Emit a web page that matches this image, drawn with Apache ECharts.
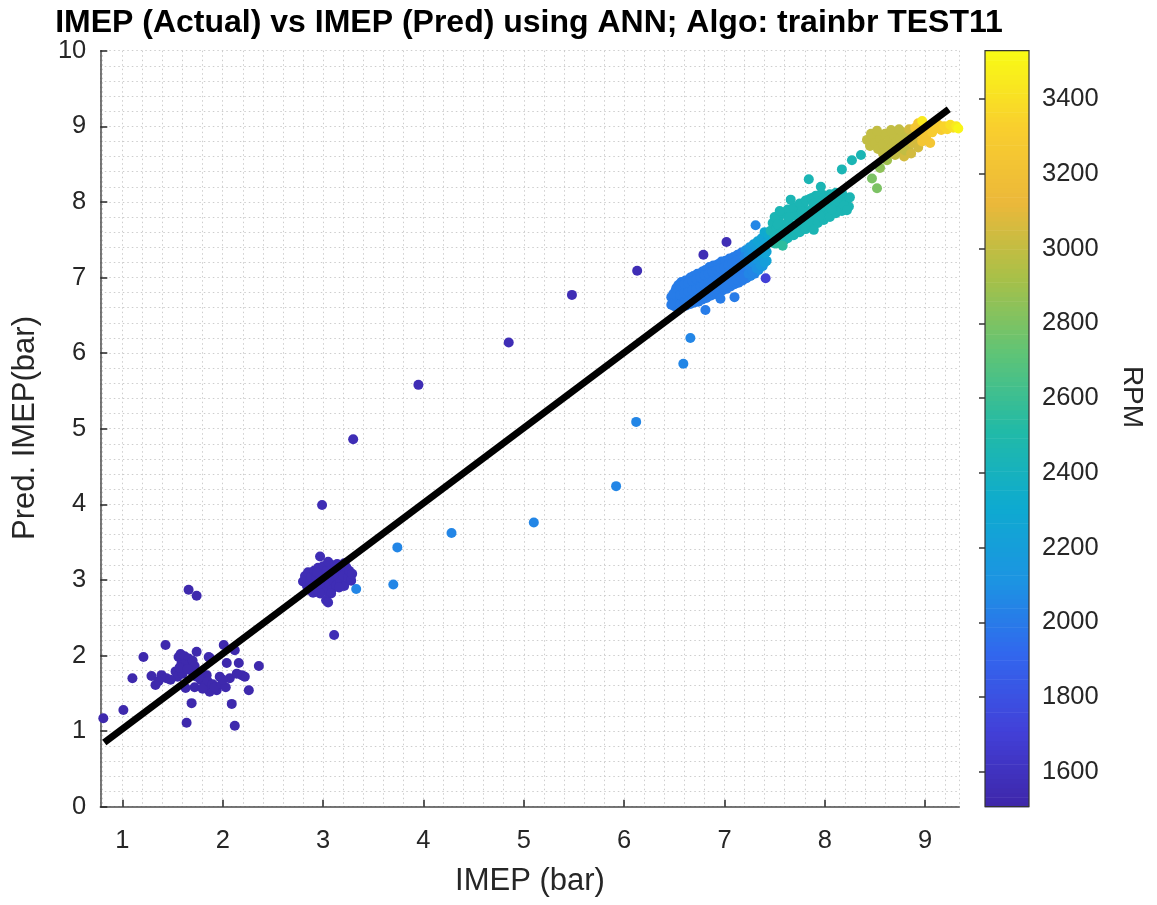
<!DOCTYPE html>
<html>
<head>
<meta charset="utf-8">
<script src="https://cdn.jsdelivr.net/npm/echarts@6/dist/echarts.min.js"></script>
<style>
  html, body { margin: 0; padding: 0; background: #ffffff; }
  #chart { width: 1157px; height: 905px; }
</style>
</head>
<body>
<div id="chart"></div>
<script>
// Each point: [IMEP actual (bar), IMEP predicted (bar), engine speed (RPM)]

// ~1500 rpm, low load
const lowLoad = [
  [0.81,1.17,1530],[1.01,1.28,1530],[1.10,1.70,1530],[1.21,1.98,1530],[1.29,1.73,1530],[1.33,1.61,1530],
  [1.39,1.74,1530],[1.43,2.14,1530],[1.44,1.70,1530],[1.53,1.79,1530],[1.56,1.98,1530],[1.59,1.90,1530],
  [1.64,1.94,1530],[1.66,2.87,1530],[1.74,2.79,1530],[1.67,1.85,1530],[1.63,1.57,1530],[1.69,1.37,1530],
  [1.64,1.11,1530],[1.74,2.05,1530],[1.74,1.72,1530],[1.81,1.65,1530],[1.84,1.74,1530],[1.87,1.52,1530],
  [1.87,1.97,1530],[1.94,1.54,1530],[1.97,1.72,1530],[2.01,2.14,1530],[2.04,1.90,1530],[2.07,1.70,1530],
  [2.09,1.36,1530],[2.12,2.07,1530],[2.16,1.90,1530],[2.12,1.07,1530],[2.19,1.74,1530],[2.22,1.72,1530],
  [2.26,1.54,1530],[2.36,1.86,1530],[1.58,2.02,1530],[1.62,1.99,1530],[1.66,1.96,1530],[1.70,1.93,1530],
  [1.61,1.88,1530],[1.69,1.80,1530],[1.72,1.86,1530],[1.77,1.76,1530],[1.78,1.68,1530],[1.82,1.60,1530],
  [1.85,1.66,1530],[1.90,1.62,1530],[1.55,1.72,1530],[1.48,1.68,1530],[1.36,1.66,1530],[1.60,1.76,1530],
  [1.72,1.58,1530],[1.80,1.56,1530],[1.92,1.58,1530],[1.99,1.62,1530],[2.03,1.58,1530],[2.14,1.76,1530],
  [1.86,1.98,1530],[2.00,1.68,1530],[1.57,1.84,1530],[1.65,1.82,1530]
];

// ~1550 rpm, part load
const partLoad = [
  [2.80,2.98,1560],[2.82,3.05,1560],[2.84,2.92,1560],[2.85,3.10,1560],[2.87,2.99,1560],[2.88,3.04,1560],
  [2.89,2.88,1560],[2.91,3.12,1560],[2.92,2.95,1560],[2.93,3.05,1560],[2.95,2.86,1560],[2.95,3.16,1560],
  [2.97,3.00,1560],[2.98,3.08,1560],[3.00,2.91,1560],[3.00,3.18,1560],[3.02,3.02,1560],[3.03,2.85,1560],
  [3.04,3.12,1560],[3.06,2.95,1560],[3.07,3.06,1560],[3.08,3.20,1560],[3.09,2.88,1560],[3.10,3.00,1560],
  [3.12,3.10,1560],[3.13,2.93,1560],[3.14,3.21,1560],[3.15,3.04,1560],[3.17,2.97,1560],[3.18,3.14,1560],
  [3.20,3.06,1560],[3.21,2.92,1560],[3.23,3.17,1560],[3.25,3.03,1560],[3.26,3.12,1560],[3.28,2.99,1560],
  [3.29,3.08,1560],[3.21,3.22,1560],[3.05,3.24,1560],[2.97,2.82,1560],[3.08,2.82,1560],[2.90,2.83,1560],
  [2.86,2.87,1560],[3.12,3.16,1560],[2.94,3.10,1560],[3.16,2.90,1560]
];

// ~2000 rpm
const midSpeed = [
  [6.47,6.64,2010],[6.47,6.74,2010],[6.50,6.62,2010],[6.50,6.72,2010],[6.51,6.82,2010],
  [6.54,6.60,2010],[6.54,6.71,2010],[6.55,6.80,2010],[6.54,6.90,2010],
  [6.58,6.62,2010],[6.58,6.73,2010],[6.59,6.84,2010],[6.57,6.94,2010],
  [6.62,6.63,2010],[6.62,6.75,2010],[6.63,6.86,2010],[6.61,6.96,2010],
  [6.66,6.65,2010],[6.66,6.77,2010],[6.67,6.88,2010],[6.66,7.00,2010],
  [6.70,6.67,2010],[6.71,6.79,2010],[6.70,6.91,2010],[6.69,7.02,2010],
  [6.74,6.68,2010],[6.74,6.81,2010],[6.75,6.93,2010],[6.73,7.05,2010],
  [6.78,6.71,2010],[6.78,6.84,2010],[6.79,6.96,2010],[6.78,7.08,2010],
  [6.82,6.73,2010],[6.82,6.86,2010],[6.83,6.98,2010],[6.81,7.10,2010],
  [6.86,6.76,2010],[6.86,6.89,2010],[6.87,7.01,2010],[6.85,7.14,2010],
  [6.90,6.78,2010],[6.90,6.91,2010],[6.91,7.03,2010],[6.89,7.16,2010],
  [6.94,6.80,2010],[6.94,6.93,2010],[6.95,7.05,2010],[6.94,7.18,2010],
  [6.98,6.83,2010],[6.98,6.96,2010],[6.99,7.08,2010],[6.97,7.21,2010],
  [7.02,6.85,2010],[7.02,6.98,2010],[7.03,7.10,2010],[7.01,7.22,2010],
  [7.06,6.88,2010],[7.06,7.01,2010],[7.07,7.13,2010],[7.05,7.25,2010],
  [7.10,6.91,2010],[7.10,7.03,2010],[7.11,7.15,2010],[7.09,7.27,2010],
  [7.14,6.93,2010],[7.14,7.06,2010],[7.15,7.18,2010],[7.13,7.30,2010],
  [7.18,6.96,2010],[7.18,7.09,2010],[7.19,7.21,2010],[7.17,7.33,2010],
  [7.22,6.99,2010],[7.22,7.12,2010],[7.23,7.24,2010],[7.21,7.36,2100],
  [7.26,7.02,2050],[7.26,7.15,2050],[7.27,7.27,2100],[7.25,7.40,2150],
  [7.30,7.05,2050],[7.30,7.18,2100],[7.31,7.31,2150],[7.29,7.44,2200],
  [7.34,7.10,2100],[7.34,7.22,2150],[7.35,7.35,2200],[7.33,7.48,2250],
  [7.38,7.15,2150],[7.38,7.27,2200],[7.39,7.40,2250],[7.37,7.52,2250],
  [7.42,7.22,2250],[7.42,7.34,2250],[7.43,7.47,2300],[7.40,7.60,2300],
  [6.49,6.66,2010],[6.49,6.78,2010],[6.52,6.86,2010],
  [6.56,6.65,2010],[6.56,6.77,2010],[6.56,6.88,2010],
  [6.60,6.67,2010],[6.60,6.79,2010],[6.60,6.91,2010],
  [6.64,6.69,2010],[6.64,6.81,2010],[6.64,6.93,2010],
  [6.68,6.71,2010],[6.68,6.83,2010],[6.68,6.95,2010],
  [6.72,6.73,2010],[6.72,6.85,2010],[6.72,6.98,2010],
  [6.76,6.76,2010],[6.76,6.88,2010],[6.76,7.00,2010],
  [6.80,6.78,2010],[6.80,6.90,2010],[6.80,7.03,2010],
  [6.84,6.80,2010],[6.84,6.93,2010],[6.84,7.05,2010],
  [6.88,6.83,2010],[6.88,6.95,2010],[6.88,7.08,2010],
  [6.92,6.85,2010],[6.92,6.97,2010],[6.92,7.10,2010],
  [6.96,6.87,2010],[6.96,7.00,2010],[6.96,7.12,2010],
  [7.00,6.90,2010],[7.00,7.02,2010],[7.00,7.14,2010],
  [7.04,6.92,2010],[7.04,7.04,2010],[7.04,7.17,2010],
  [7.08,6.95,2010],[7.08,7.07,2010],[7.08,7.19,2010],
  [7.12,6.97,2010],[7.12,7.09,2010],[7.12,7.22,2010],
  [7.16,7.00,2010],[7.16,7.12,2010],[7.16,7.24,2010],
  [7.20,7.02,2010],[7.20,7.14,2010],[7.20,7.27,2050],
  [7.24,7.05,2050],[7.24,7.17,2050],[7.24,7.30,2100],
  [7.28,7.08,2050],[7.28,7.20,2100],[7.28,7.33,2150],
  [7.32,7.12,2100],[7.32,7.24,2150],[7.32,7.37,2200],
  [7.36,7.16,2150],[7.36,7.28,2200],[7.36,7.42,2250],
  [7.40,7.20,2200],[7.40,7.32,2250],[7.40,7.45,2250],
  [6.81,6.57,2010],[7.10,6.74,2010],[6.96,6.72,2010],[7.31,7.69,2050],[7.44,7.56,2300]
];

// ~2500 rpm
const highSpeed = [
  [7.46,7.62,2450],[7.48,7.72,2450],[7.50,7.55,2450],[7.52,7.66,2450],[7.54,7.78,2450],[7.56,7.60,2450],
  [7.58,7.70,2450],[7.60,7.50,2500],[7.60,7.84,2450],[7.62,7.64,2450],[7.64,7.75,2450],[7.66,7.90,2450],
  [7.66,7.56,2500],[7.68,7.68,2450],[7.70,7.82,2450],[7.72,7.60,2450],[7.73,7.94,2450],[7.74,7.72,2450],
  [7.76,7.85,2450],[7.78,7.64,2450],[7.79,7.98,2450],[7.80,7.76,2450],[7.82,7.88,2450],[7.84,7.68,2450],
  [7.85,8.04,2450],[7.86,7.80,2450],[7.88,7.92,2450],[7.90,7.72,2450],[7.91,8.08,2450],[7.92,7.84,2450],
  [7.94,7.96,2450],[7.96,7.78,2450],[7.97,8.10,2450],[7.98,7.88,2450],[8.00,8.00,2450],[8.02,7.82,2450],
  [8.03,8.08,2450],[8.05,7.92,2450],[8.07,8.02,2450],[8.09,7.86,2450],[8.10,8.10,2450],[8.12,7.96,2450],
  [8.14,8.04,2450],[8.16,7.90,2450],[8.18,8.08,2450],[8.20,7.98,2450],[8.22,8.03,2450],[8.24,7.94,2450],
  [8.25,8.06,2450],
  [7.50,7.45,2500],[7.50,7.80,2450],[7.57,7.48,2500],[7.57,7.86,2450],[7.63,7.52,2450],[7.63,7.90,2450],
  [7.69,7.56,2450],[7.69,7.93,2450],[7.75,7.60,2450],[7.75,7.98,2450],[7.81,7.64,2450],[7.81,8.02,2450],
  [7.87,7.68,2450],[7.87,8.05,2450],[7.93,7.72,2450],[7.93,8.08,2450],[7.99,7.76,2450],[7.99,8.06,2450],
  [8.05,7.80,2450],[8.05,8.10,2450],[8.11,7.85,2450],[8.11,8.12,2450],[8.17,7.88,2450],[8.17,8.12,2450],
  [7.53,7.70,2450],[7.59,7.62,2450],[7.65,7.80,2450],[7.71,7.66,2450],[7.77,7.88,2450],[7.83,7.74,2450],
  [7.89,7.98,2450],[7.95,7.82,2450],[8.01,8.04,2450],[8.07,7.90,2450],[8.13,8.06,2450],[8.19,7.95,2450],
  [7.84,8.30,2450],[7.96,8.20,2450],[8.17,8.43,2450],[8.27,8.55,2450],[8.36,8.62,2450],
  [7.66,8.03,2450],[7.55,7.88,2450],[7.89,7.63,2450],[8.22,7.89,2450],[7.52,7.45,2550],[7.58,7.42,2550]
];

// ~3000-3500 rpm
const topSpeed = [
  [8.47,8.31,2800],[8.52,8.18,2800],[8.55,8.45,2850],[8.62,8.55,2900],
  [8.42,8.82,3000],[8.45,8.74,3000],[8.48,8.86,3000],[8.50,8.78,3000],[8.53,8.70,3000],[8.55,8.84,3000],
  [8.58,8.76,3000],[8.60,8.90,3000],[8.62,8.68,3000],[8.64,8.82,3000],[8.67,8.74,3000],[8.69,8.88,3000],
  [8.71,8.79,3000],[8.73,8.66,3000],[8.75,8.85,3000],[8.77,8.92,3000],[8.79,8.76,3000],[8.81,8.83,3000],
  [8.83,8.70,3000],[8.85,8.88,3000],[8.87,8.78,3050],[8.89,8.95,3050],[8.91,8.84,3050],[8.93,8.72,3050],
  [8.79,8.60,3050],[8.46,8.90,3000],[8.52,8.94,3000],[8.58,8.64,3000],[8.66,8.95,3000],[8.70,8.62,3000],
  [8.74,8.96,3000],[8.80,8.68,3000],[8.84,8.96,3050],[8.86,8.64,3050],
  [8.90,8.98,3250],[8.93,9.04,3250],[8.95,8.90,3250],[8.97,8.80,3250],[8.99,8.96,3250],[9.01,8.86,3250],
  [9.03,9.00,3250],[9.05,8.78,3250],[9.07,8.92,3300],[9.10,8.97,3300],[9.13,9.02,3300],[9.16,8.95,3300],
  [9.19,9.00,3350],[9.22,8.96,3350],[9.25,9.02,3400],[9.28,8.98,3400],[9.31,9.00,3450],[9.33,8.97,3500],
  [8.97,9.07,3450]
];

// scattered transient points
const outliers = [
  [3.33,2.88,2050],[3.70,2.94,2050],[3.74,3.43,2050],[4.28,3.62,2050],[5.10,3.76,2050],[5.92,4.24,2050],
  [6.12,5.09,2050],[6.59,5.86,2050],[6.66,6.20,2050],
  [2.97,3.31,1560],[2.99,3.99,1560],[3.03,2.73,1560],[3.05,2.70,1560],[3.11,2.27,1560],[3.30,4.86,1560],
  [3.95,5.58,1560],[4.85,6.14,1560],[5.48,6.77,1560],[6.13,7.09,1560],[6.79,7.30,1560],[7.02,7.47,1560],
  [7.41,6.99,1700]
];

// regression line endpoints
const fitLine = [[0.82, 0.85], [9.235, 9.225]];

const xRange = [0.78, 9.34];
const yRange = [0, 10];
const rpmRange = [1507, 3529];

const titleText = 'IMEP (Actual) vs IMEP (Pred) using ANN; Algo: trainbr TEST11';
const xLabel = 'IMEP (bar)';
const yLabel = 'Pred. IMEP(bar)';
const cbLabel = 'RPM';

// parula-like colour ramp
const parula = ['#3e26a8', '#4240d8', '#3266ee', '#1c94e2', '#0eabcf', '#22baa6',
                '#5fc476', '#a8c048', '#ecb83a', '#f9cf2e', '#f9fb14'];

const points = [].concat(lowLoad, partLoad, midSpeed, highSpeed, topSpeed, outliers);

// colour bar strips
const cbSteps = [];
const nSteps = 160;
for (let i = 0; i < nSteps; i++) {
  const lo = rpmRange[0] + (rpmRange[1] - rpmRange[0]) * i / nSteps;
  const hi = rpmRange[0] + (rpmRange[1] - rpmRange[0]) * (i + 1) / nSteps;
  cbSteps.push([(lo + hi) / 2, lo, hi]);
}

const FONT = '"Liberation Sans", Arial, Helvetica, sans-serif';
const TXT = '#262626';
const gridLine = { color: '#cdcdcd', width: 1, type: [1.5, 3] };

const chart = echarts.init(document.getElementById('chart'), null, { renderer: 'canvas' });

chart.setOption({
  backgroundColor: '#ffffff',
  animation: false,
  textStyle: { fontFamily: FONT },
  grid: [
    { left: 100.3, top: 50.7, width: 859, height: 756 },
    { left: 985, top: 50.7, width: 44, height: 756 }
  ],
  xAxis: [
    {
      gridIndex: 0, type: 'value', min: xRange[0], max: xRange[1], splitNumber: 10,
      axisLine: { show: true, onZero: false, lineStyle: { color: '#4a4a4a', width: 1.5 } },
      axisTick: { show: true, inside: true, length: 7, lineStyle: { color: '#262626', width: 1.5 } },
      axisLabel: { fontSize: 25.5, color: TXT, margin: 21, fontFamily: FONT,
                   showMinLabel: false, showMaxLabel: false },
      splitLine: { show: true, lineStyle: gridLine },
      minorTick: { show: false, splitNumber: 5 },
      minorSplitLine: { show: true, lineStyle: gridLine }
    },
    { gridIndex: 1, type: 'value', min: 0, max: 1, show: false }
  ],
  yAxis: [
    {
      gridIndex: 0, type: 'value', min: yRange[0], max: yRange[1], interval: 1,
      axisLine: { show: true, onZero: false, lineStyle: { color: '#4a4a4a', width: 1.5 } },
      axisTick: { show: true, inside: true, length: 7, lineStyle: { color: '#262626', width: 1.5 } },
      axisLabel: { fontSize: 25.5, color: TXT, margin: 14, fontFamily: FONT },
      splitLine: { show: true, lineStyle: gridLine },
      minorTick: { show: false, splitNumber: 5 },
      minorSplitLine: { show: true, lineStyle: gridLine }
    },
    {
      gridIndex: 1, type: 'value', position: 'right', min: rpmRange[0], max: rpmRange[1], splitNumber: 10,
      z: 10,
      axisLine: { show: false },
      axisTick: { show: true, inside: true, length: 6, lineStyle: { color: '#333333', width: 1.5 } },
      axisLabel: { fontSize: 25.5, color: TXT, margin: 13, fontFamily: FONT,
                   showMinLabel: false, showMaxLabel: false,
                   formatter: function (v) { return String(v); } },
      splitLine: { show: false }
    }
  ],
  visualMap: [
    { type: 'continuous', show: false, seriesIndex: 0, dimension: 2,
      min: rpmRange[0], max: rpmRange[1], inRange: { color: parula } },
    { type: 'continuous', show: false, seriesIndex: 2, dimension: 0,
      min: rpmRange[0], max: rpmRange[1], inRange: { color: parula } }
  ],
  series: [
    {
      type: 'scatter', xAxisIndex: 0, yAxisIndex: 0, data: points,
      symbol: 'circle', symbolSize: 10, itemStyle: { opacity: 1 },
      encode: { x: 0, y: 1 }, z: 2
    },
    {
      type: 'line', xAxisIndex: 0, yAxisIndex: 0, data: fitLine, symbol: 'none',
      lineStyle: { color: '#000000', width: 7, cap: 'butt' }, z: 3, silent: true
    },
    {
      type: 'custom', xAxisIndex: 1, yAxisIndex: 1, data: cbSteps,
      encode: { y: 1 }, silent: true, z: 2,
      renderItem: function (params, api) {
        const p0 = api.coord([0, api.value(1)]);
        const p1 = api.coord([1, api.value(2)]);
        return {
          type: 'rect',
          shape: { x: p0[0], y: p1[1], width: p1[0] - p0[0], height: p0[1] - p1[1] + 0.6 },
          style: { fill: api.visual('color') }
        };
      }
    },
    {
      type: 'custom', xAxisIndex: 1, yAxisIndex: 1, data: [[rpmRange[0], rpmRange[1]]],
      encode: { y: 0 }, silent: true, z: 4,
      renderItem: function (params, api) {
        const p0 = api.coord([0, api.value(0)]);
        const p1 = api.coord([1, api.value(1)]);
        return {
          type: 'rect',
          shape: { x: p0[0], y: p1[1], width: p1[0] - p0[0], height: p0[1] - p1[1] },
          style: { fill: null, stroke: '#333333', lineWidth: 1.2 }
        };
      }
    }
  ],
  graphic: [
    { type: 'text', x: 529, y: 23, style: { text: titleText, fontFamily: FONT, fontWeight: 'bold',
      fontSize: 32, fill: '#000000', align: 'center', verticalAlign: 'middle' } },
    { type: 'text', x: 530, y: 881, style: { text: xLabel, fontFamily: FONT,
      fontSize: 31, fill: TXT, align: 'center', verticalAlign: 'middle' } },
    { type: 'text', x: 25, y: 428, rotation: Math.PI / 2, style: { text: yLabel, fontFamily: FONT,
      fontSize: 31, fill: TXT, align: 'center', verticalAlign: 'middle' } },
    { type: 'text', x: 1132, y: 397, rotation: -Math.PI / 2, style: { text: cbLabel, fontFamily: FONT,
      fontSize: 28, fill: TXT, align: 'center', verticalAlign: 'middle' } }
  ]
});
</script>
</body>
</html>
